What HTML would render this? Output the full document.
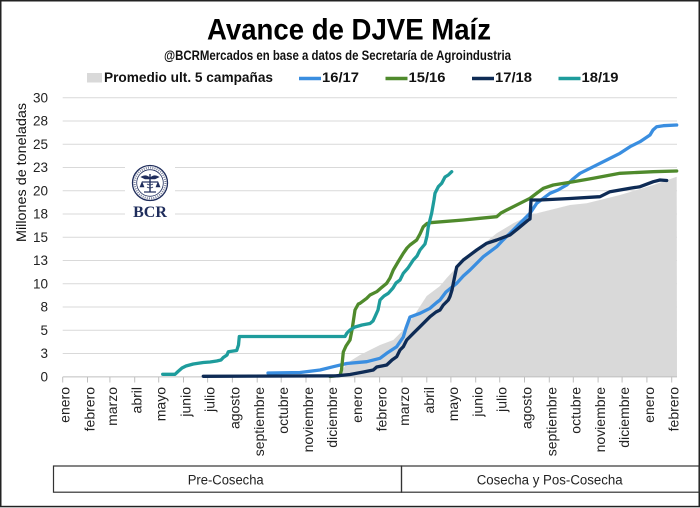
<!DOCTYPE html>
<html><head><meta charset="utf-8"><style>
html,body{margin:0;padding:0;background:#fff;}
svg{display:block;}
text{font-family:"Liberation Sans",sans-serif;}
</style></head><body>
<svg width="700" height="508" viewBox="0 0 700 508" xmlns="http://www.w3.org/2000/svg">
<rect x="0" y="0" width="700" height="508" fill="#fff"/>
<!-- outer border -->
<rect x="0.75" y="0.75" width="698.5" height="505.8" fill="none" stroke="#222" stroke-width="1.5"/>

<!-- title -->
<text x="207" y="39.5" font-size="30" font-weight="bold" textLength="284" lengthAdjust="spacingAndGlyphs" fill="#000">Avance de DJVE Maíz</text>
<text x="164" y="60" font-size="13.5" font-weight="bold" textLength="347" lengthAdjust="spacingAndGlyphs" fill="#111">@BCRMercados en base a datos de Secretaría de Agroindustria</text>

<!-- legend -->
<rect x="87" y="73" width="15" height="9.5" fill="#d9d9d9"/>
<text x="104" y="82" font-size="13.5" font-weight="bold" textLength="169" lengthAdjust="spacingAndGlyphs" fill="#111">Promedio ult. 5 campañas</text>
<line x1="299" y1="78.5" x2="321" y2="78.5" stroke="#3a8ee0" stroke-width="3.5"/>
<text x="322" y="82" font-size="13.5" font-weight="bold" textLength="37" lengthAdjust="spacingAndGlyphs" fill="#111">16/17</text>
<line x1="385.5" y1="78.5" x2="407.5" y2="78.5" stroke="#4f8a2c" stroke-width="3.5"/>
<text x="408.5" y="82" font-size="13.5" font-weight="bold" textLength="37" lengthAdjust="spacingAndGlyphs" fill="#111">15/16</text>
<line x1="472" y1="78.5" x2="494" y2="78.5" stroke="#0e2b55" stroke-width="3.5"/>
<text x="495" y="82" font-size="13.5" font-weight="bold" textLength="37" lengthAdjust="spacingAndGlyphs" fill="#111">17/18</text>
<line x1="558.5" y1="78.5" x2="580.5" y2="78.5" stroke="#1e9c9c" stroke-width="3.5"/>
<text x="581.5" y="82" font-size="13.5" font-weight="bold" textLength="37" lengthAdjust="spacingAndGlyphs" fill="#111">18/19</text>

<!-- gridlines -->
<g stroke="#d9d9d9" stroke-width="1">
<line x1="62.7" x2="677" y1="353.45" y2="353.45"/>
<line x1="62.7" x2="677" y1="330.2" y2="330.2"/>
<line x1="62.7" x2="677" y1="306.95" y2="306.95"/>
<line x1="62.7" x2="677" y1="283.7" y2="283.7"/>
<line x1="62.7" x2="677" y1="260.45" y2="260.45"/>
<line x1="62.7" x2="677" y1="237.2" y2="237.2"/>
<line x1="62.7" x2="677" y1="213.95" y2="213.95"/>
<line x1="62.7" x2="677" y1="190.7" y2="190.7"/>
<line x1="62.7" x2="677" y1="167.45" y2="167.45"/>
<line x1="62.7" x2="677" y1="144.2" y2="144.2"/>
<line x1="62.7" x2="677" y1="120.95" y2="120.95"/>
<line x1="62.7" x2="677" y1="97.7" y2="97.7"/>
</g>

<!-- y tick labels -->
<g font-size="13.5" fill="#222" text-anchor="end">
<text x="48" y="381.5">0</text>
<text x="48" y="358.2">3</text>
<text x="48" y="335">5</text>
<text x="48" y="311.7">8</text>
<text x="48" y="288.5">10</text>
<text x="48" y="265.2">13</text>
<text x="48" y="242">15</text>
<text x="48" y="218.7">18</text>
<text x="48" y="195.5">20</text>
<text x="48" y="172.2">23</text>
<text x="48" y="149">25</text>
<text x="48" y="125.7">28</text>
<text x="48" y="102.5">30</text>
</g>
<text transform="translate(26,172.5) rotate(-90)" font-size="14" text-anchor="middle" textLength="139" lengthAdjust="spacingAndGlyphs" fill="#111">Millones de toneladas</text>

<!-- logo -->
<rect x="125" y="159" width="50" height="63" fill="#fff"/>
<g transform="translate(150,183)" stroke="#1f2d5c" fill="none">
<circle r="17.5" stroke-width="1.3"/>
<circle r="13.3" stroke-width="0.8"/>
<circle r="15.4" stroke-width="2" stroke-dasharray="1 1.2" opacity="0.6"/>
<line x1="0" y1="-9" x2="0" y2="9" stroke-width="1.4"/>
<line x1="-8" y1="-1" x2="8" y2="-1" stroke-width="1.2"/>
<path d="M-9,-6 Q-4,-9 0,-5 Q4,-9 9,-6 L5,-4 L-5,-4 Z" fill="#1f2d5c" stroke-width="0.6"/>
<path d="M-8,-1 L-10,4 L-6,4 Z M8,-1 L10,4 L6,4 Z" fill="#1f2d5c" stroke-width="0.6"/>
<path d="M-3,1 Q0,3 3,1 M-3,4 Q0,6 3,4" stroke-width="0.8"/>
<line x1="-6" y1="9" x2="6" y2="9" stroke-width="1.2"/>
</g>
<text x="150" y="217" style="font-family:'Liberation Serif',serif;" font-size="16" font-weight="bold" text-anchor="middle" fill="#1f2d5c">BCR</text>

<!-- gray area -->
<polygon fill="#d9d9d9" points="336,376.7 340,374 346.7,363.3 360,355 380,345 393.3,340 403.3,330 413.3,316.7 426.7,296 440,286 446.7,278 463.3,260 480,246.7 496.7,233.3 513.3,223.3 530,215 550,210 570,205 586.7,203.3 620,195 653.3,185 676.7,176.7 677,376.7"/>

<!-- x axis -->
<line x1="62.7" y1="376.9" x2="677" y2="376.9" stroke="#bfbfbf" stroke-width="1"/>
<g stroke="#bfbfbf" stroke-width="1">
<line x1="62.7" x2="62.7" y1="377" y2="382.5"/><line x1="87.5" x2="87.5" y1="377" y2="382.5"/><line x1="109.9" x2="109.9" y1="377" y2="382.5"/><line x1="134.7" x2="134.7" y1="377" y2="382.5"/><line x1="158.7" x2="158.7" y1="377" y2="382.5"/><line x1="183.5" x2="183.5" y1="377" y2="382.5"/><line x1="207.6" x2="207.6" y1="377" y2="382.5"/><line x1="232.4" x2="232.4" y1="377" y2="382.5"/><line x1="257.2" x2="257.2" y1="377" y2="382.5"/><line x1="281.2" x2="281.2" y1="377" y2="382.5"/><line x1="306" x2="306" y1="377" y2="382.5"/><line x1="330" x2="330" y1="377" y2="382.5"/><line x1="354.8" x2="354.8" y1="377" y2="382.5"/><line x1="379.6" x2="379.6" y1="377" y2="382.5"/><line x1="402" x2="402" y1="377" y2="382.5"/><line x1="426.8" x2="426.8" y1="377" y2="382.5"/><line x1="450.9" x2="450.9" y1="377" y2="382.5"/><line x1="475.7" x2="475.7" y1="377" y2="382.5"/><line x1="499.7" x2="499.7" y1="377" y2="382.5"/><line x1="524.5" x2="524.5" y1="377" y2="382.5"/><line x1="549.3" x2="549.3" y1="377" y2="382.5"/><line x1="573.3" x2="573.3" y1="377" y2="382.5"/><line x1="598.1" x2="598.1" y1="377" y2="382.5"/><line x1="622.1" x2="622.1" y1="377" y2="382.5"/><line x1="646.9" x2="646.9" y1="377" y2="382.5"/><line x1="671.7" x2="671.7" y1="377" y2="382.5"/>
</g>

<!-- month labels -->
<g font-size="14" fill="#222" text-anchor="end">
<text transform="translate(69.7,387) rotate(-90)">enero</text>
<text transform="translate(94.5,387) rotate(-90)">febrero</text>
<text transform="translate(116.9,387) rotate(-90)">marzo</text>
<text transform="translate(141.7,387) rotate(-90)">abril</text>
<text transform="translate(165.7,387) rotate(-90)">mayo</text>
<text transform="translate(190.5,387) rotate(-90)">junio</text>
<text transform="translate(214.6,387) rotate(-90)">julio</text>
<text transform="translate(239.4,387) rotate(-90)">agosto</text>
<text transform="translate(264.2,387) rotate(-90)">septiembre</text>
<text transform="translate(288.2,387) rotate(-90)">octubre</text>
<text transform="translate(313,387) rotate(-90)">noviembre</text>
<text transform="translate(337,387) rotate(-90)">diciembre</text>
<text transform="translate(361.8,387) rotate(-90)">enero</text>
<text transform="translate(386.6,387) rotate(-90)">febrero</text>
<text transform="translate(409,387) rotate(-90)">marzo</text>
<text transform="translate(433.8,387) rotate(-90)">abril</text>
<text transform="translate(457.9,387) rotate(-90)">mayo</text>
<text transform="translate(482.7,387) rotate(-90)">junio</text>
<text transform="translate(506.7,387) rotate(-90)">julio</text>
<text transform="translate(531.5,387) rotate(-90)">agosto</text>
<text transform="translate(556.3,387) rotate(-90)">septiembre</text>
<text transform="translate(580.3,387) rotate(-90)">octubre</text>
<text transform="translate(605.1,387) rotate(-90)">noviembre</text>
<text transform="translate(629.1,387) rotate(-90)">diciembre</text>
<text transform="translate(653.9,387) rotate(-90)">enero</text>
<text transform="translate(678.7,387) rotate(-90)">febrero</text>
</g>

<!-- series -->
<g fill="none" stroke-width="3.3" stroke-linejoin="round" stroke-linecap="round">
<polyline stroke="#3a8ee0" points="268,373 300,372.5 320,370 333.3,366.7 346.7,363.5 366.7,361.7 380,358.3 386.7,353.3 396.7,346.7 403.3,337 406,328 410,317 420,313.3 430,308.3 436.7,302.5 440,300 446,292 456.7,283.3 463.3,276 470,270 476,264 483.3,256.7 496.7,246.7 503,240 510,233.3 520,223.3 530,213.3 536.7,203.3 550,193.3 558,190 566.7,185 573,179 580,173.3 593.3,166.7 606.7,160 620,153.3 630,146.7 640,141.7 650,135 653,130 656.7,126.7 663.3,125.7 676.7,125"/>
<polyline stroke="#4f8a2c" points="330,376.5 340,375.5 341.5,370 343.3,352 346,346 350,340 352,330 355,310 358.3,304 360,303.3 366.7,298.3 370,295 376.7,291.7 381,288 386.7,283.3 390,278 393.3,270 398,262 403.3,253.3 407,248 410,245 416.7,240 420,234 423.3,226.7 427,223.5 430,222.7 463.3,220 480,218.3 496.7,216.7 501,213 506.7,210 520,203.3 530,198.3 537,193 543.3,188.3 553.3,185 573.3,181.7 593.3,178.3 620,173.3 653.3,171.7 676.7,171"/>
<polyline stroke="#0e2b55" points="203.3,376.3 336.7,375.8 350,374.5 363.3,372 373.3,370 376.7,367 386.7,365 392,360 396.7,356.7 400,350 403.3,346.7 406.7,340 413.3,333.3 420,326.7 430,316.7 436,312 440,310 443.3,305 448.3,300 450,296.5 452,290 453.3,283.3 456.7,267 463.3,260 476.7,250 486.7,243.3 496.7,240 510,235 518.3,228.3 528.3,220 530,219 531,200 540,200 570,198.5 600,196.7 610,191.7 630,188.3 640,186.7 653.3,181.7 660,180 666.7,180.5"/>
<polyline stroke="#1e9c9c" points="162.7,374.3 175,374.3 178,371.5 182,368 186,366 193.3,364 203.3,362.5 210,362 216.7,361 221,360 223.3,357.5 227,355 228.3,351.7 236.7,350.5 238.5,345 239.3,336.5 345,336.5 347,333 350,330 355,327 362,325 370,323.5 373,321 375,316.7 378,310 380,300 384,296 388.3,293.3 393,288 396,283 400,280 403.3,273.3 408,268 413.3,260 417,256 420,250 425,244 427,236 428.3,226.7 431.7,213 434,200 435,193.3 438.3,186.7 441.7,183.3 445,177 448.3,175 451.7,171.7"/>
</g>

<!-- bottom boxes -->
<g fill="none" stroke="#333" stroke-width="1.2">
<rect x="53.5" y="466" width="348" height="26.2"/>
<rect x="401.5" y="466" width="297.5" height="26.2"/>
</g>
<text x="187.7" y="484.5" font-size="13.5" textLength="76" lengthAdjust="spacingAndGlyphs" fill="#222">Pre-Cosecha</text>
<text x="476.7" y="484.5" font-size="13.5" textLength="146" lengthAdjust="spacingAndGlyphs" fill="#222">Cosecha y Pos-Cosecha</text>
</svg>
</body></html>
